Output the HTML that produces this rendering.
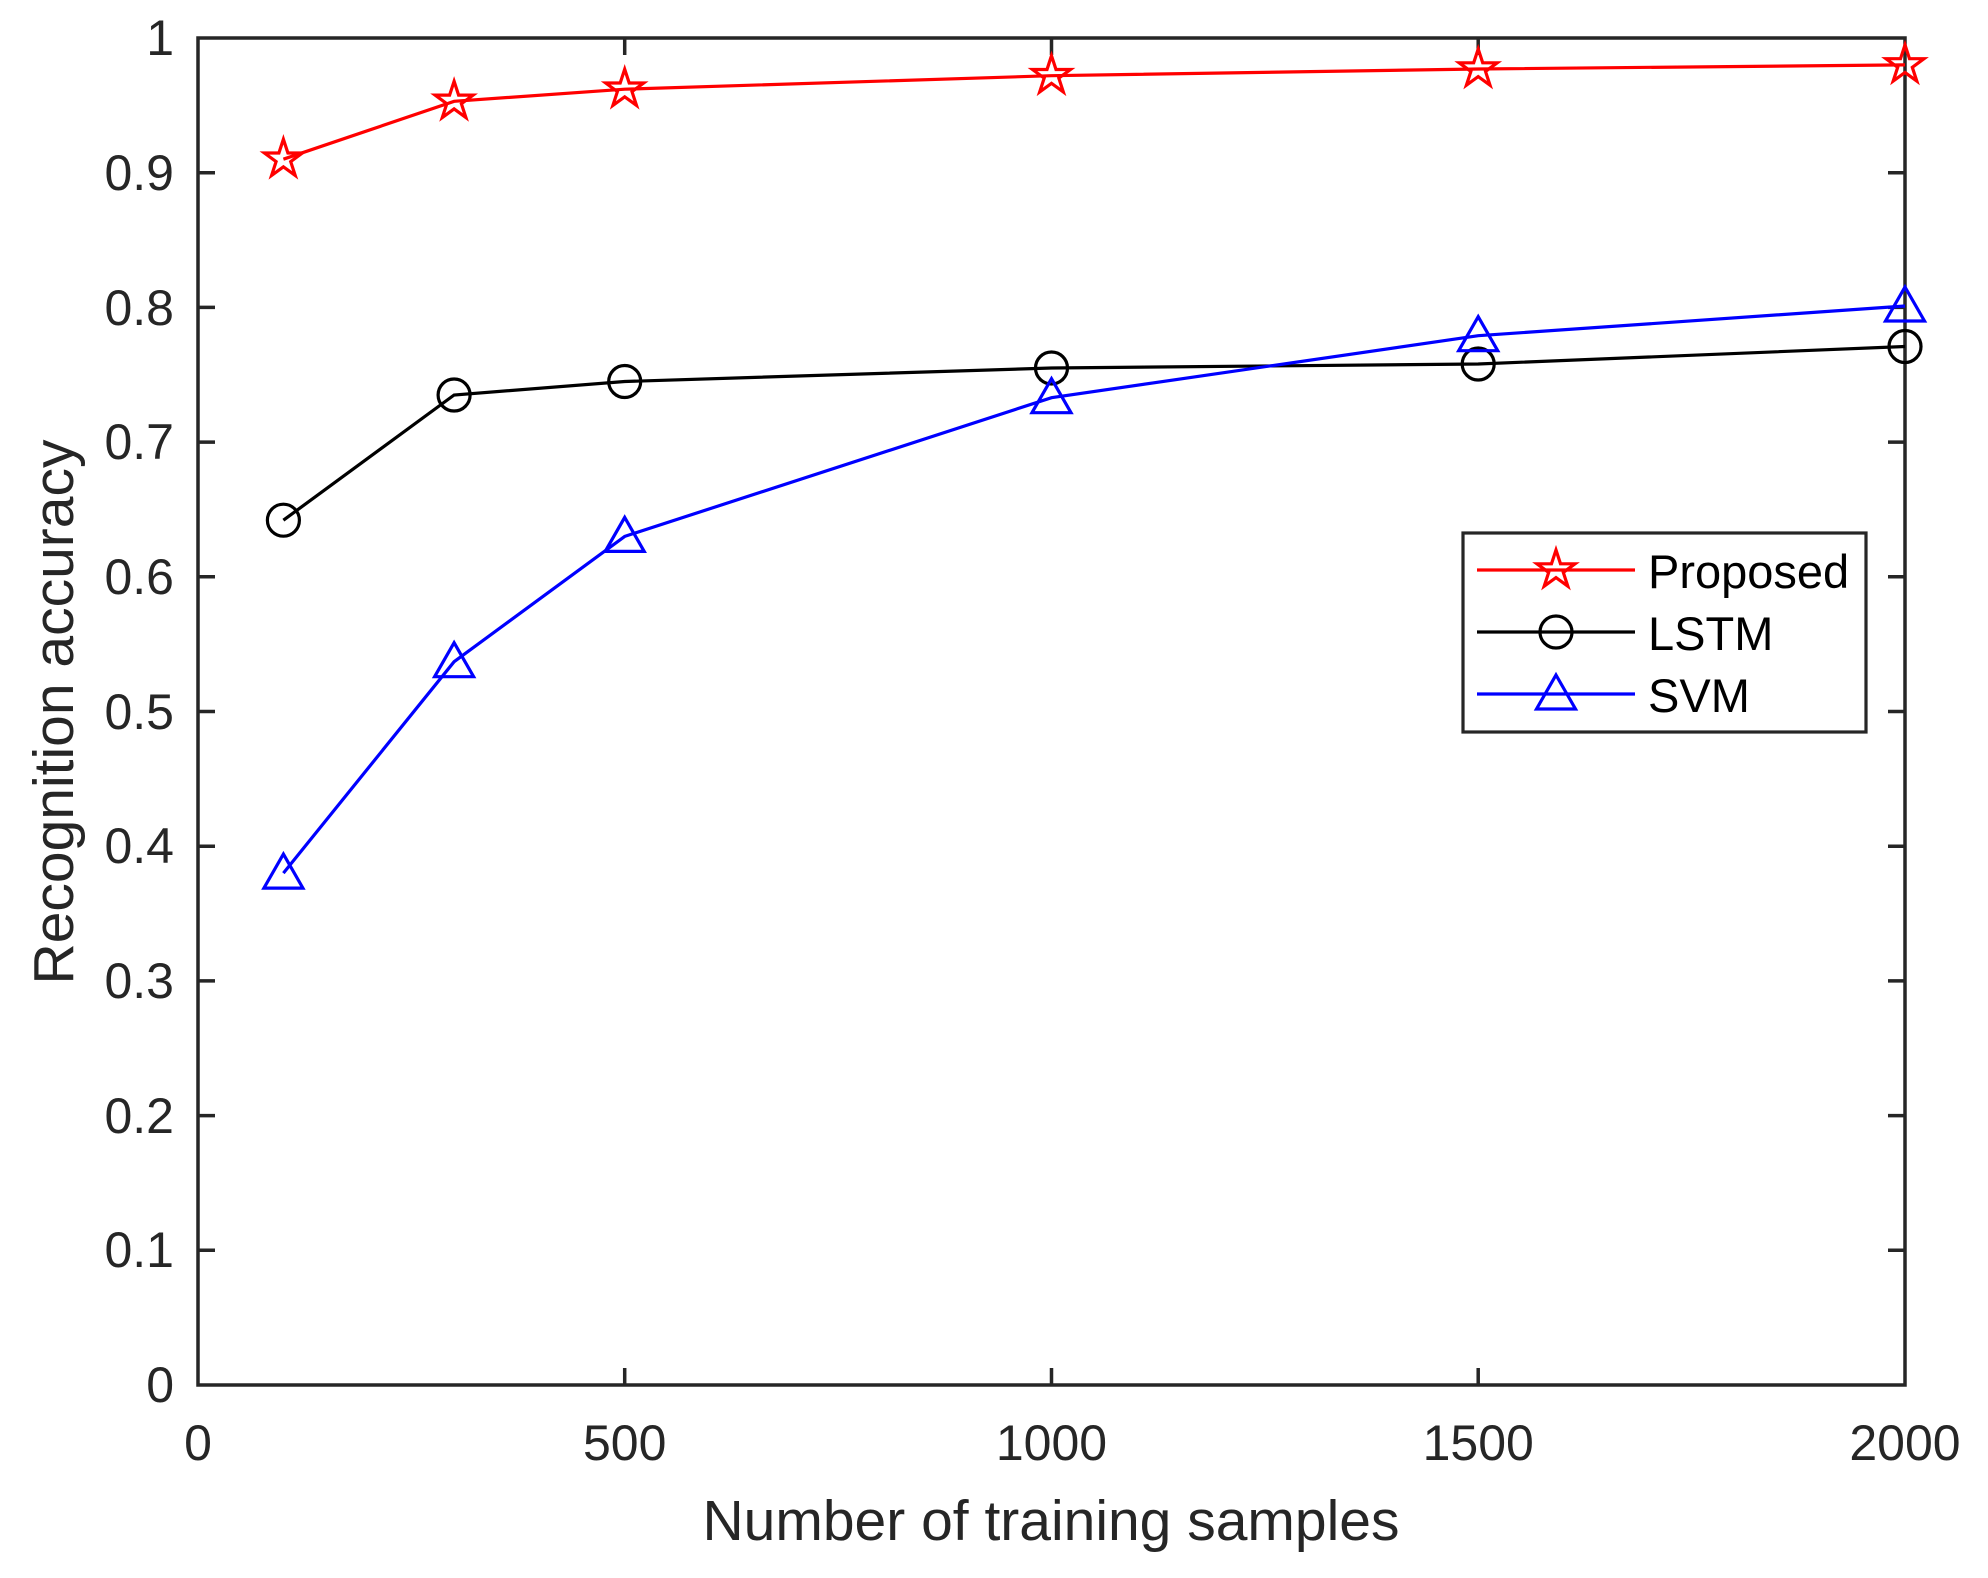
<!DOCTYPE html>
<html><head><meta charset="utf-8"><style>html,body{margin:0;padding:0;background:#fff}svg{display:block}</style></head>
<body>
<svg width="1988" height="1578" viewBox="0 0 1988 1578" xmlns="http://www.w3.org/2000/svg" font-family="Liberation Sans, Arial, sans-serif">
<rect width="1988" height="1578" fill="#fff"/>
<defs>
<g id="star"><polygon points="0,-20 4.5,-6.2 19,-6.2 7.3,2.4 11.8,16.2 0,7.6 -11.8,16.2 -7.3,2.4 -19,-6.2 -4.5,-6.2" fill="none" stroke="#ff0000" stroke-width="3.2"/></g>
<g id="circ"><circle r="16" fill="none" stroke="#000" stroke-width="3.2"/></g>
<g id="tri"><polygon points="0,-19 19.5,15 -19.5,15" fill="none" stroke="#0000ff" stroke-width="3.2"/></g>
</defs>
<g stroke="#262626" stroke-width="3.5" fill="none">
<rect x="198" y="38" width="1707" height="1347"/>
<path d="M624.7,1385v-17M1051.5,1385v-17M1478.2,1385v-17M624.7,38v17M1051.5,38v17M1478.2,38v17"/>
<path d="M198,1250.3h17M198,1115.6h17M198,980.9h17M198,846.2h17M198,711.5h17M198,576.8h17M198,442.1h17M198,307.4h17M198,172.7h17
M1905,1250.3h-17M1905,1115.6h-17M1905,980.9h-17M1905,846.2h-17M1905,711.5h-17M1905,576.8h-17M1905,442.1h-17M1905,307.4h-17M1905,172.7h-17"/>
</g>
<g fill="#262626" font-size="50" text-anchor="end">
<text x="174" y="1402">0</text><text x="174" y="1267">0.1</text><text x="174" y="1133">0.2</text><text x="174" y="998">0.3</text><text x="174" y="863">0.4</text><text x="174" y="729">0.5</text><text x="174" y="594">0.6</text><text x="174" y="459">0.7</text><text x="174" y="325">0.8</text><text x="174" y="190">0.9</text><text x="174" y="55">1</text>
</g>
<g fill="#262626" font-size="50" text-anchor="middle">
<text x="198" y="1460">0</text><text x="624.7" y="1460">500</text><text x="1051.5" y="1460">1000</text><text x="1478.2" y="1460">1500</text><text x="1905" y="1460">2000</text>
</g>
<text x="1051" y="1540" font-size="57" text-anchor="middle" fill="#262626">Number of training samples</text>
<text transform="translate(73,712) rotate(-90)" font-size="57" text-anchor="middle" fill="#262626">Recognition accuracy</text>
<polyline fill="none" stroke="#ff0000" stroke-width="3.2" points="283.4,159.2 454.1,101.3 624.7,89.2 1051.5,75.7 1478.2,69 1905,64.9"/>
<polyline fill="none" stroke="#000" stroke-width="3.2" points="283.4,520.2 454.1,395 624.7,381.5 1051.5,368 1478.2,364 1905,346.5"/>
<polyline fill="none" stroke="#0000ff" stroke-width="3.2" points="283.4,873.1 454.1,661.7 624.7,536.4 1051.5,397.7 1478.2,335.7 1905,306"/>
<use href="#star" x="283.4" y="159.2"/><use href="#star" x="454.1" y="101.3"/><use href="#star" x="624.7" y="89.2"/><use href="#star" x="1051.5" y="75.7"/><use href="#star" x="1478.2" y="69"/><use href="#star" x="1905" y="64.9"/>
<use href="#circ" x="283.4" y="520.2"/><use href="#circ" x="454.1" y="395"/><use href="#circ" x="624.7" y="381.5"/><use href="#circ" x="1051.5" y="368"/><use href="#circ" x="1478.2" y="364"/><use href="#circ" x="1905" y="346.5"/>
<use href="#tri" x="283.4" y="873.1"/><use href="#tri" x="454.1" y="661.7"/><use href="#tri" x="624.7" y="536.4"/><use href="#tri" x="1051.5" y="397.7"/><use href="#tri" x="1478.2" y="335.7"/><use href="#tri" x="1905" y="306"/>
<rect x="1463" y="533" width="403" height="199" fill="#fff" stroke="#262626" stroke-width="3.2"/>
<line x1="1477" y1="570" x2="1635" y2="570" stroke="#ff0000" stroke-width="3.2"/><use href="#star" x="1556" y="570"/>
<line x1="1477" y1="632" x2="1635" y2="632" stroke="#000" stroke-width="3.2"/><use href="#circ" x="1556" y="632"/>
<line x1="1477" y1="694" x2="1635" y2="694" stroke="#0000ff" stroke-width="3.2"/><use href="#tri" x="1556" y="694"/>
<g font-size="47" fill="#000">
<text x="1648" y="588">Proposed</text><text x="1648" y="650">LSTM</text><text x="1648" y="712">SVM</text>
</g>
</svg>
</body></html>
